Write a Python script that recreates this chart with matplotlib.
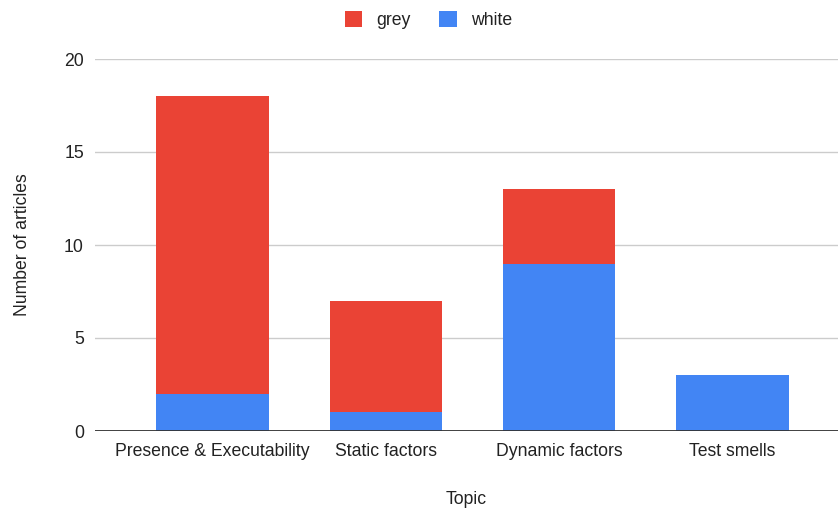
import matplotlib.pyplot as plt
import numpy as np

plt.rcParams['font.family'] = ['Liberation Sans', 'DejaVu Sans']

topics = ['Presence & Executability', 'Static factors', 'Dynamic factors', 'Test smells']
white = [2, 1, 9, 3]
grey = [16, 6, 4, 0]

red = '#EA4335'
blue = '#4285F4'
fs = 12.7

fig = plt.figure(figsize=(8.38, 5.12), dpi=100)
ax = fig.add_axes([95 / 838, 1 - 431 / 512, 743 / 838, 372 / 512])

x = np.arange(len(topics))
w = 0.65
ax.bar(x, white, w, color=blue, label='white', zorder=3)
ax.bar(x, grey, w, bottom=white, color=red, label='grey', zorder=3)

ax.set_xlim(-0.68, 3.61)
ax.set_ylim(0, 20)
ax.set_yticks([0, 5, 10, 15, 20])
ax.yaxis.grid(True, color='#cccccc', linewidth=1, zorder=0)
ax.axhline(0, color='#333333', linewidth=1.3, zorder=4)
for s in ax.spines.values():
    s.set_visible(False)
ax.tick_params(axis='both', length=0, labelsize=fs, colors='#222222')
ax.tick_params(axis='y', pad=8)
ax.tick_params(axis='x', pad=9)
ax.set_xticks(x)
ax.set_xticklabels(topics)

ax.set_ylabel('Number of articles', fontsize=fs, color='#222222', labelpad=24)
ax.set_xlabel('Topic', fontsize=fs, color='#222222', labelpad=22)

handles, labels = ax.get_legend_handles_labels()
fig.legend(handles[::-1], labels[::-1], loc='center', bbox_to_anchor=(0.511, 1 - 20 / 512),
           ncol=2, frameon=False, fontsize=fs, handlelength=1.0, handleheight=1.0,
           handletextpad=0.8, columnspacing=1.6, labelcolor='#222222')

fig.savefig('out.png', dpi=100)
